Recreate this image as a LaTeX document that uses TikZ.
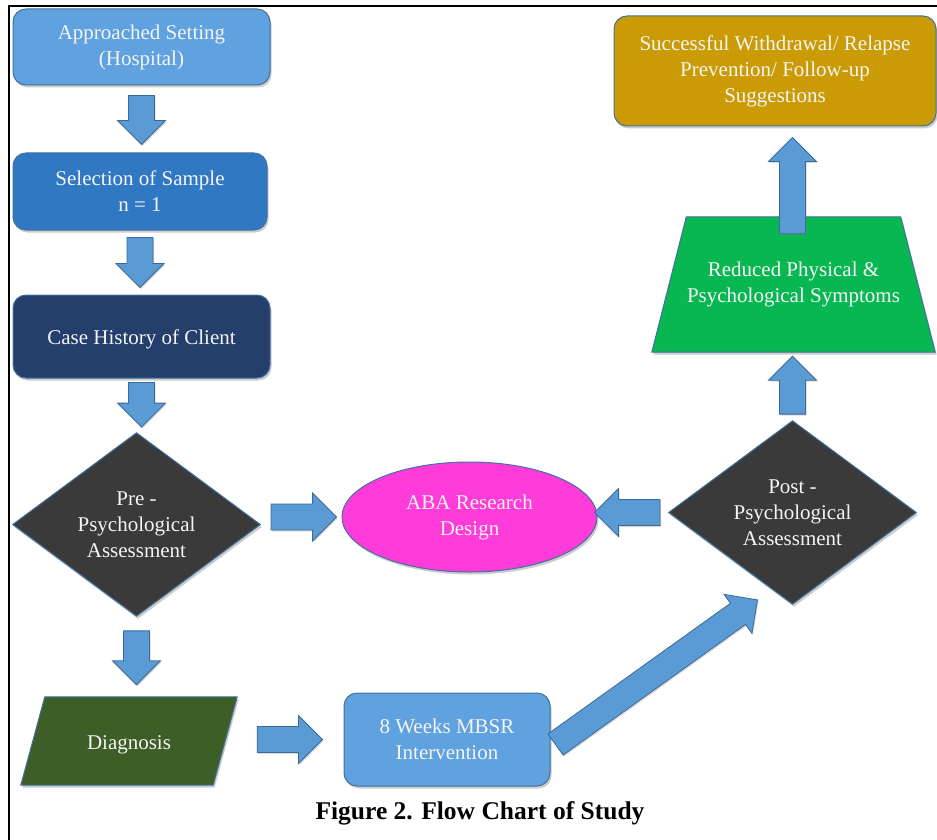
\documentclass[tikz,border=0pt]{standalone}
\usepackage{fontspec}
\setmainfont{Liberation Serif}
\usetikzlibrary{shapes.geometric,calc,shadows,backgrounds}
\definecolor{lblue}{HTML}{5FA2DF}
\definecolor{mblue}{HTML}{3079C2}
\definecolor{navyc}{HTML}{243F6C}
\definecolor{dgray}{HTML}{3A3A3A}
\definecolor{magc}{HTML}{FF3CD9}
\definecolor{greenc}{HTML}{08B652}
\definecolor{goldc}{HTML}{CA9B04}
\definecolor{olivec}{HTML}{3E5E28}
\definecolor{arrfill}{HTML}{5B9BD5}
\definecolor{arredge}{HTML}{3A6A96}
\definecolor{edgec}{HTML}{41719C}
\definecolor{txtc}{HTML}{F4F4F4}
\tikzset{
  look/.style={draw=edgec, line width=1pt,
    drop shadow={shadow xshift=1.5pt, shadow yshift=-2.5pt, opacity=0.4}},
  txt/.style={text=txtc, font=\fontsize{21}{26}\selectfont, align=center, inner sep=0pt,
    execute at begin node={\rule{0pt}{21pt}}},
  base/.style={look, txt},
  rbox/.style={base, rectangle, rounded corners=13pt},
  dia/.style={base, diamond, fill=dgray, minimum width=248pt, minimum height=175pt},
  blk/.style={fill=arrfill, draw=arredge, line width=0.8pt,
    drop shadow={shadow xshift=1pt, shadow yshift=-1.5pt, opacity=0.3}},
  capt/.style={font=\bfseries\fontsize{25.5}{30}\selectfont, text=black},
}
\newcommand\blkarrow[2]{%
  \path[blk] let \p1=(#1), \p2=(#2),
    \n1={atan2(\y2-\y1,\x2-\x1)},
    \n2={veclen(\x2-\x1,\y2-\y1)-24},
    \n3={veclen(\x2-\x1,\y2-\y1)} in
    ([shift={(\p1)},rotate=\n1]0pt,-13pt) --
    ([shift={(\p1)},rotate=\n1]\n2,-13pt) --
    ([shift={(\p1)},rotate=\n1]\n2,-24pt) --
    ([shift={(\p1)},rotate=\n1]\n3,0pt) --
    ([shift={(\p1)},rotate=\n1]\n2,24pt) --
    ([shift={(\p1)},rotate=\n1]\n2,13pt) --
    ([shift={(\p1)},rotate=\n1]0pt,13pt) -- cycle;}
\begin{document}
\begin{tikzpicture}[x=1pt,y=-1pt]
\useasboundingbox (0,0) rectangle (937,840);
\draw[line width=2pt] (9,842) -- (9,6) -- (937,6);

\node[rbox, fill=lblue, minimum width=257pt, minimum height=76pt] (app) at (141.5,47) {Approached Setting\\(Hospital)};
\node[rbox, fill=mblue, minimum width=254pt, minimum height=77pt] (sel) at (140,191.5) {Selection of Sample\\n = 1};
\node[rbox, fill=navyc, minimum width=257pt, minimum height=83pt] (case) at (141.5,336.5) {Case History of Client};
\node[dia] (pre) at (136.5,524.5) {Pre -\\Psychological\\Assessment};
\node[base, ellipse, fill=magc, minimum width=255pt, minimum height=110pt] (aba) at (469.5,517) {ABA Research\\Design};
\node[dia] (post) at (792.5,512.5) {Post -\\Psychological\\Assessment};
\node[txt, rectangle, minimum width=283pt, minimum height=135pt] (red) at (793.5,284.5) {Reduced Physical \&\\Psychological Symptoms};
\node[rbox, fill=goldc, minimum width=322pt, minimum height=110pt] (succ) at (775,71) {Successful Withdrawal/ Relapse\\Prevention/ Follow-up\\Suggestions};
\node[txt, rectangle, minimum width=216pt, minimum height=88pt] (diag) at (129,741) {Diagnosis};
\node[rbox, fill=lblue, minimum width=206pt, minimum height=93pt] (mbsr) at (447,739.5) {8 Weeks MBSR\\Intervention};
\node[capt] (cap) at (480,813) {Figure 2. Flow Chart of Study};

\begin{scope}[on background layer]
  \path[look, fill=greenc] (red.south west) -- (red.south east)
    -- ([xshift=-34.5pt]red.north east) -- ([xshift=34.5pt]red.north west) -- cycle;
  \path[look, fill=olivec] (diag.south west) -- ([xshift=-24pt]diag.south east)
    -- (diag.north east) -- ([xshift=24pt]diag.north west) -- cycle;
\end{scope}

\blkarrow{[yshift=-10pt]app.south}{[yshift=8pt]app.south |- sel.north}
\blkarrow{[yshift=-7pt]sel.south}{[yshift=7pt]sel.south |- case.north}
\blkarrow{[yshift=-4pt]case.south}{[yshift=5pt]case.south |- pre.north}
\blkarrow{[xshift=10pt]pre.east |- aba.west}{[xshift=-5pt]aba.west}
\blkarrow{[xshift=-8pt]post.west}{[xshift=-3pt]aba.east |- post.west}
\blkarrow{[yshift=6pt]post.north}{[yshift=-4pt]post.north |- red.south}
\blkarrow{[yshift=-17pt]post.north |- red.north}{[yshift=-11pt]post.north |- succ.south}
\blkarrow{[yshift=-14pt]pre.south}{[yshift=12pt]pre.south |- diag.north}
\blkarrow{[xshift=20pt]diag.east |- mbsr.west}{[xshift=-21pt]mbsr.west}
\blkarrow{[xshift=5pt,yshift=-5pt]mbsr.east}{[xshift=-35pt,yshift=5pt]post.south}
\end{tikzpicture}
\end{document}
